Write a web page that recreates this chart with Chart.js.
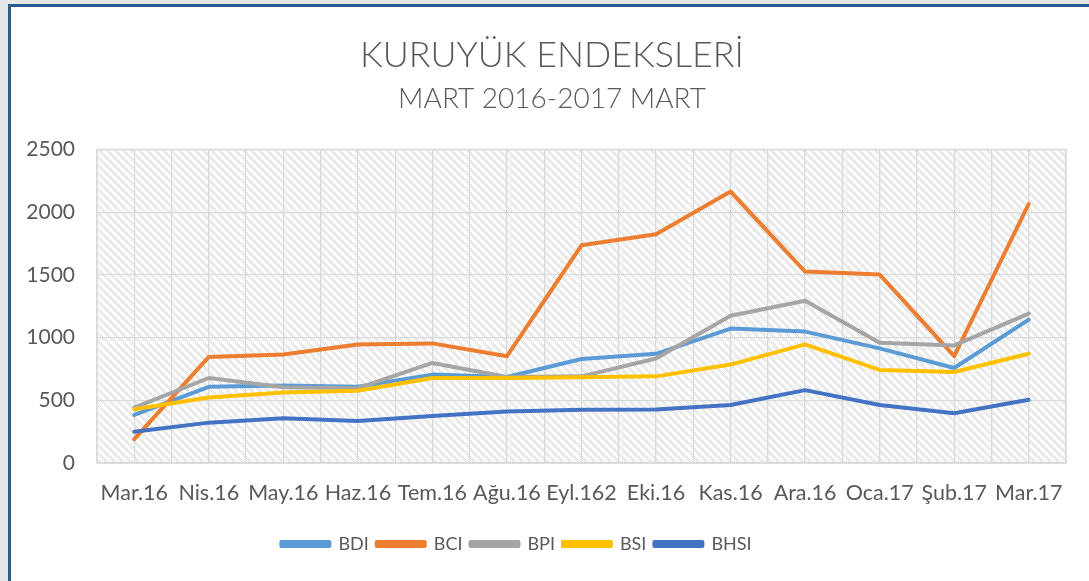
<!DOCTYPE html>
<html>
<head>
<meta charset="utf-8">
<script src="https://cdn.jsdelivr.net/npm/chart.js@4/dist/chart.umd.min.js"></script>
<style>
  body { margin: 0; background: #e7e7e7; overflow: hidden; }
  #frame {
    position: absolute; left: 8px; top: 4px;
    width: 1078px; height: 574px;
    border-left: 3px solid #295c8c; border-top: 3px solid #295c8c;
    background: #fff;
  }
</style>
</head>
<body>
<div id="frame"><canvas id="lineChart" width="1078" height="574"></canvas></div>
<script>
// data
var months = ["Mar.16", "Nis.16", "May.16", "Haz.16", "Tem.16", "Ağu.16", "Eyl.162", "Eki.16", "Kas.16", "Ara.16", "Oca.17", "Şub.17", "Mar.17"];
var bdi = [383, 608, 619, 608, 705, 686, 830, 871, 1072, 1048, 914, 758, 1144];
var bci = [190, 846, 866, 946, 954, 852, 1736, 1825, 2165, 1527, 1503, 852, 2066];
var bpi = [442, 678, 605, 597, 798, 686, 691, 833, 1174, 1294, 959, 938, 1192];
var bsi = [429, 522, 563, 576, 678, 678, 683, 691, 785, 946, 742, 726, 871];
var bhsi = [249, 322, 356, 335, 375, 410, 424, 426, 463, 581, 463, 397, 504];

var textColor = "#595959";
var gridColor = "#d9d9d9";
Chart.defaults.font.family = "Lato, 'Open Sans', sans-serif";
Chart.defaults.color = textColor;

// hatched plot background
function makePattern() {
  var c = document.createElement("canvas");
  c.width = 8; c.height = 8;
  var p = c.getContext("2d");
  p.fillStyle = "#fff";
  p.fillRect(0, 0, 8, 8);
  p.fillStyle = "#dadada";
  for (var y = 0; y < 8; y++) {
    for (var x = 0; x < 8; x++) {
      var d = ((x - y) % 8 + 8) % 8;
      if (d < 4 && (x + y) % 2 === 0) p.fillRect(x, y, 1, 1);
    }
  }
  return p.createPattern(c, "repeat");
}

var hatchBg = {
  id: "hatchBg",
  afterLayout: function (chart) {
    // title sits a little right of centre, legend a little left
    chart.boxes.forEach(function (b) {
      if (b === chart.legend) {
        b.left -= 22;
        b.right -= 22;
      } else if (b.options && typeof b.options.text === "string") {
        b.left += 13.5;
        b.right += 13.5;
      }
    });
  },
  beforeDraw: function (chart) {
    var a = chart.chartArea, ctx = chart.ctx;
    ctx.save();
    ctx.fillStyle = makePattern();
    ctx.fillRect(a.left, a.top, a.right - a.left, a.bottom - a.top);
    ctx.strokeStyle = gridColor;
    ctx.lineWidth = 1.5;
    ctx.strokeRect(a.left, a.top, a.right - a.left, a.bottom - a.top);
    ctx.restore();
  }
};

function series(label, data, color, order) {
  return {
    label: label,
    data: data,
    borderColor: color,
    backgroundColor: color,
    borderWidth: 4,
    pointRadius: 0,
    tension: 0,
    borderCapStyle: "round",
    borderJoinStyle: "round",
    order: order
  };
}

var ctxL = document.getElementById("lineChart").getContext("2d");
var myLineChart = new Chart(ctxL, {
  type: "line",
  data: {
    labels: months,
    datasets: [
      series("BDI", bdi, "#5b9bd5", 5),
      series("BCI", bci, "#ed7d31", 4),
      series("BPI", bpi, "#a5a5a5", 3),
      series("BSI", bsi, "#ffc000", 2),
      series("BHSI", bhsi, "#4472c4", 1)
    ]
  },
  options: {
    responsive: false,
    animation: false,
    layout: { padding: { left: 0, right: 23, top: 0, bottom: 18 } },
    plugins: {
      title: {
        display: true,
        text: "KURUYÜK ENDEKSLERİ",
        color: textColor,
        font: { size: 35.8, weight: 300 },
        padding: { top: 27, bottom: 0 }
      },
      subtitle: {
        display: true,
        text: "MART 2016-2017 MART",
        color: textColor,
        font: { size: 28, weight: 300 },
        padding: { top: 5, bottom: 34 }
      },
      legend: {
        position: "bottom",
        labels: {
          boxWidth: 48,
          boxHeight: 4,
          padding: 8,
          color: textColor,
          font: { size: 18 },
          sort: function (a, b) { return a.datasetIndex - b.datasetIndex; }
        }
      },
      tooltip: { enabled: false }
    },
    scales: {
      x: {
        offset: true,
        grid: { offset: true, color: gridColor, lineWidth: 1.3, drawTicks: false },
        border: { display: false },
        ticks: { padding: 17, font: { size: 21.5 }, maxRotation: 0, autoSkip: false },
        afterFit: function (s) { s.height = 64; }
      },
      x2: {
        type: "category",
        labels: months,
        position: "top",
        offset: true,
        grid: { offset: false, color: gridColor, lineWidth: 1.3, drawTicks: false },
        border: { display: false },
        ticks: { display: false },
        afterFit: function (s) { s.height = 0; }
      },
      y: {
        min: 0,
        max: 2500,
        ticks: {
          stepSize: 500,
          padding: 22,
          font: { size: 21 },
          callback: function (v) { return String(v); }
        },
        grid: { color: gridColor, lineWidth: 1.3, drawTicks: false },
        border: { display: false },
        afterFit: function (s) { s.width = 86; }
      }
    }
  },
  plugins: [hatchBg]
});
</script>
</body>
</html>
